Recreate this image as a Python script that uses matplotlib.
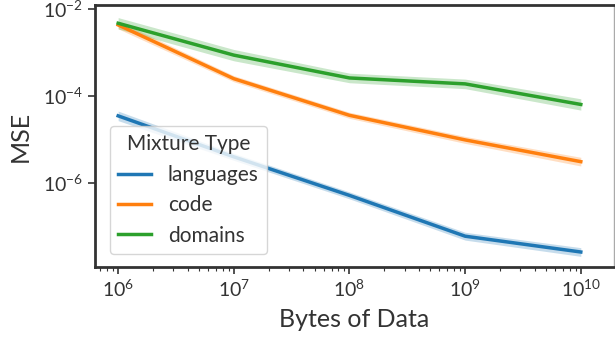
import matplotlib
matplotlib.use("Agg")
import matplotlib.pyplot as plt
import numpy as np

plt.rcParams['font.family'] = ['Lato', 'DejaVu Sans']
plt.rcParams['mathtext.fontset'] = 'custom'
plt.rcParams['mathtext.rm'] = 'Lato'

# bytes of data
x_bytes = [1e6, 1e7, 1e8, 1e9, 1e10]

# mean MSE per mixture type
mse_languages = [3.5e-5, 4.0e-6, 5.2e-7, 6.0e-8, 2.6e-8]
mse_code = [4.3e-3, 2.5e-4, 3.6e-5, 9.8e-6, 3.1e-6]
mse_domains = [4.7e-3, 8.7e-4, 2.6e-4, 1.9e-4, 6.4e-5]

# half width of the shaded band, in decades
band_languages = [0.11, 0.08, 0.08, 0.09, 0.10]
band_code = [0.09, 0.07, 0.07, 0.08, 0.10]
band_domains = [0.13, 0.13, 0.11, 0.11, 0.13]

series = [
    ("languages", mse_languages, band_languages, "#1f77b4"),
    ("code", mse_code, band_code, "#ff7f0e"),
    ("domains", mse_domains, band_domains, "#2ca02c"),
]

fig = plt.figure(figsize=(6.15, 3.44), dpi=100)
ax = fig.add_axes([0.1545, 0.2238, 0.8435, 0.7617])

for nombre, valores, banda, color in series:
    v = np.array(valores)
    b = np.array(banda)
    ax.fill_between(x_bytes, v / 10**b, v * 10**b, color=color, alpha=0.25, linewidth=0)
    ax.plot(x_bytes, v, color=color, linewidth=2.5, label=nombre)

ax.set_xscale("log")
ax.set_yscale("log")
ax.set_xlim(10**5.8, 10**10.285)
ax.set_ylim(10**-7.93, 10**-1.908)
ax.set_yticks([1e-6, 1e-4, 1e-2])
ax.yaxis.set_minor_locator(matplotlib.ticker.NullLocator())

for lado in ["left", "bottom", "top"]:
    ax.spines[lado].set_linewidth(2)
    ax.spines[lado].set_color("#333333")
ax.spines["right"].set_linewidth(1)
ax.spines["right"].set_color("#aaaaaa")

ax.tick_params(axis="both", which="major", labelsize=14, length=5, width=1.2,
               color="#333333", labelcolor="#333333")
ax.tick_params(axis="x", which="minor", length=3, width=0.8, color="#333333")

ax.set_xlabel("Bytes of Data", fontsize=18, color="#333333", labelpad=6)
ax.set_ylabel("MSE", fontsize=18, color="#333333", labelpad=8)

leg = ax.legend(title="Mixture Type", loc="lower left", fontsize=15, title_fontsize=15,
                frameon=True, fancybox=True, bbox_to_anchor=(0.008, 0.01),
                handlelength=1.6, handletextpad=0.8)
leg.get_frame().set_edgecolor("#cccccc")
for t in leg.get_texts():
    t.set_color("#333333")
leg.get_title().set_color("#333333")

fig.savefig("out.png", dpi=100)
